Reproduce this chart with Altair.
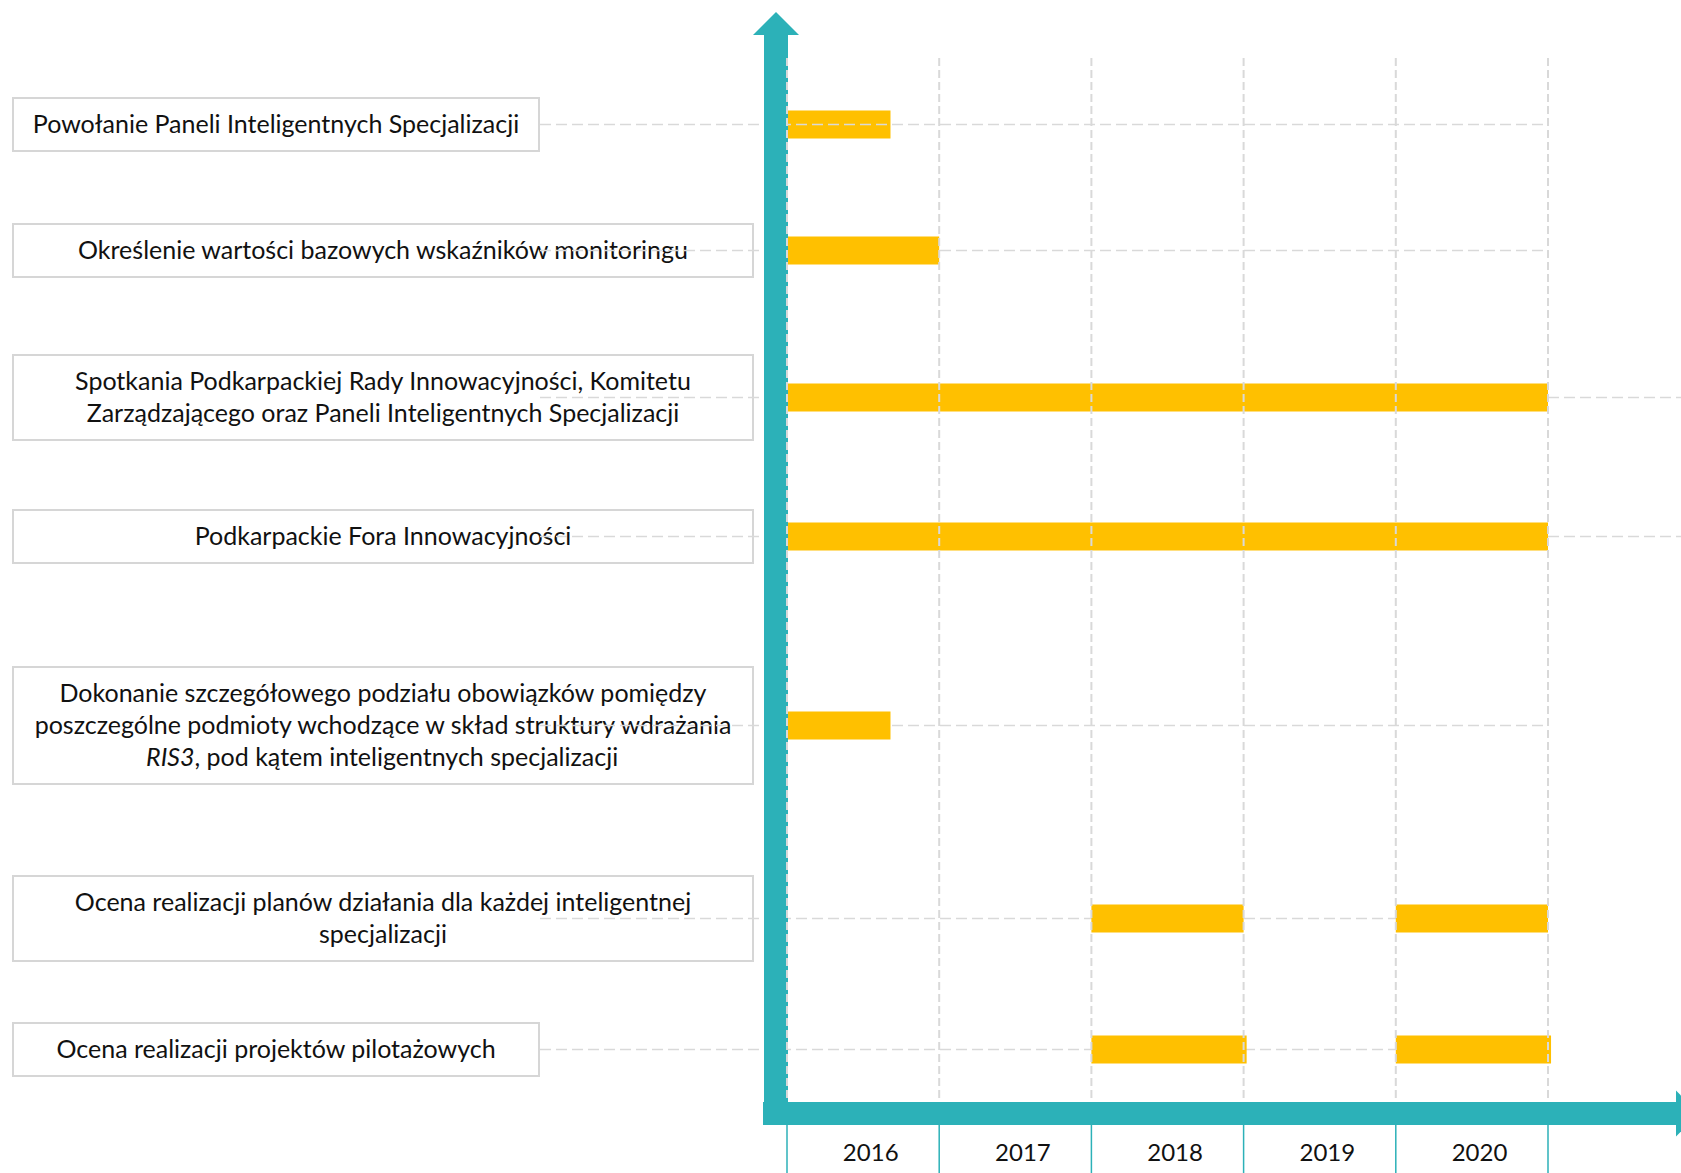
import altair as alt
import pandas as pd

# ---------------- data ----------------
tasks = [
    "Powołanie Paneli Inteligentnych Specjalizacji",
    "Określenie wartości bazowych wskaźników monitoringu",
    "Spotkania Podkarpackiej Rady Innowacyjności, Komitetu\nZarządzającego oraz Paneli Inteligentnych Specjalizacji",
    "Podkarpackie Fora Innowacyjności",
    "Dokonanie szczegółowego podziału obowiązków pomiędzy\nposzczególne podmioty wchodzące w skład struktury wdrażania\n*RIS3*, pod kątem inteligentnych specjalizacji",
    "Ocena realizacji planów działania dla każdej inteligentnej\nspecjalizacji",
    "Ocena realizacji projektów pilotażowych",
]
seg_task = [0, 1, 2, 3, 4, 5, 5, 6, 6]
seg_start = [2016.0, 2016.0, 2016.0, 2016.0, 2016.0, 2018.0, 2020.0, 2018.0, 2020.0]
seg_end = [2016.68, 2017.0, 2021.0, 2021.0, 2016.68, 2019.0, 2021.0, 2019.02, 2021.02]
years = [2016, 2017, 2018, 2019, 2020]

# ---------------- layout / style ----------------
W, H = 1681, 1173
X0, YPX = 787, 152.2          # pixel of first year boundary, pixels per year
BOX_LEFT = 13
BOX_RIGHT_SHORT, BOX_RIGHT_WIDE = 539, 753
box_wide = [False, True, True, True, True, True, False]
line_to_edge = [False, False, True, True, False, False, False]
rule_over_bar = [True, False, False, False, False, False, False]
TOP, PAD, LINE_H = 98, 10.5, 32
GAPS = [73, 78, 70, 104, 92, 62]   # vertical space between consecutive boxes
BAR_H = 28
LINE_START = 540
FONT, FS = "Lato", 25
TEAL, GOLD, GRID = "#2cb1b8", "#ffc000", "#d9d9d9"
RIS_W, REST_W = 48, 425       # rough rendered widths of the mixed-style line

yr_lo = years[0] - X0 / YPX
yr_hi = years[0] + (W - X0) / YPX
YEAR_X = alt.Scale(domain=[yr_lo, yr_hi], nice=False, zero=False)
PX_X = alt.Scale(domain=[0, W], nice=False, zero=False)
PX_Y = alt.Scale(domain=[0, H], reverse=True, nice=False, zero=False)
grid_x_end = years[-1] + 1

# row boxes, derived from line counts
rows = []
top = TOP
for i, t in enumerate(tasks):
    n = len(t.split("\n"))
    h = 2 * PAD + n * LINE_H
    right = BOX_RIGHT_WIDE if box_wide[i] else BOX_RIGHT_SHORT
    rows.append(dict(task=i, top=top, bottom=top + h, center=top + h / 2,
                     left=BOX_LEFT, right=right, tx=(BOX_LEFT + right) / 2,
                     lstart=LINE_START, over=rule_over_bar[i],
                     lend=W if line_to_edge[i] else X0 + YPX * (grid_x_end - years[0])))
    if i < len(GAPS):
        top += h + GAPS[i]
rows_df = pd.DataFrame(rows)

# text lines
plain, ital, rest = [], [], []
for r, t in zip(rows, tasks):
    lines = t.split("\n")
    n = len(lines)
    for k, ln in enumerate(lines):
        y = r["center"] + (k - (n - 1) / 2) * LINE_H
        if ln.startswith("*"):
            it, rs = ln[1:].split("*", 1)
            split = r["tx"] + (RIS_W - REST_W) / 2
            ital.append(dict(text=it, x=split, y=y))
            rest.append(dict(text=rs, x=split, y=y))
        else:
            plain.append(dict(text=ln, x=r["tx"], y=y))

bars_df = pd.DataFrame(dict(task=seg_task, start=seg_start, end=seg_end))
bars_df["y0"] = [rows[t]["center"] - BAR_H / 2 for t in seg_task]
bars_df["y1"] = [rows[t]["center"] + BAR_H / 2 for t in seg_task]

bounds_df = pd.DataFrame(dict(year=years + [grid_x_end]))
years_df = pd.DataFrame(dict(year=years, label=[str(y) for y in years]))
one = pd.DataFrame(dict(k=[0]))

# ---------------- marks ----------------
boxes = alt.Chart(rows_df).mark_rect(fill="white", stroke="#d6d6d6", strokeWidth=2).encode(
    x=alt.X("left:Q", scale=PX_X, axis=None), x2="right:Q",
    y=alt.Y("top:Q", scale=PX_Y, axis=None), y2="bottom:Q")

def text_layer(data, align, style="normal"):
    return alt.Chart(pd.DataFrame(data)).mark_text(
        font=FONT, fontSize=FS, fontStyle=style, color="#111111",
        align=align, baseline="middle").encode(
        x=alt.X("x:Q", scale=PX_X, axis=None),
        y=alt.Y("y:Q", scale=PX_Y, axis=None), text="text:N")

txt_plain = text_layer(plain, "center")
txt_ital = text_layer(ital, "right", "italic")
txt_rest = text_layer(rest, "left")

bars = alt.Chart(bars_df).mark_rect(color=GOLD).encode(
    x=alt.X("start:Q", scale=YEAR_X, axis=None), x2="end:Q",
    y=alt.Y("y0:Q", scale=PX_Y, axis=None), y2="y1:Q")

def hrule_layer(over):
    return alt.Chart(rows_df).transform_filter(
        "datum.over" if over else "!datum.over").mark_rule(
        color=GRID, strokeWidth=1.6, strokeDash=[11, 5]).encode(
        x=alt.X("lstart:Q", scale=PX_X, axis=None), x2="lend:Q",
        y=alt.Y("center:Q", scale=PX_Y, axis=None))

hrules_under = hrule_layer(False)
hrules_over = hrule_layer(True)

vshaft = alt.Chart(one).mark_rect(color=TEAL).encode(
    x=alt.value(764), x2=alt.value(788), y=alt.value(34), y2=alt.value(1125))
hshaft = alt.Chart(one).mark_rect(color=TEAL).encode(
    x=alt.value(763), x2=alt.value(1677), y=alt.value(1102), y2=alt.value(1125))
up_head = alt.Chart(one).mark_point(
    shape="M-1,0.5L0,-0.5L1,0.5Z", size=2116, filled=True, opacity=1, color=TEAL, strokeWidth=0).encode(
    x=alt.value(776), y=alt.value(23.5))
right_head = alt.Chart(one).mark_point(
    shape="M-0.5,-1L0.5,0L-0.5,1Z", size=2116, filled=True, opacity=1, color=TEAL, strokeWidth=0).encode(
    x=alt.value(1687.5), y=alt.value(1113.5))

vgrid = alt.Chart(bounds_df).mark_rule(color=GRID, strokeWidth=2, strokeDash=[8, 4]).encode(
    x=alt.X("year:Q", scale=YEAR_X, axis=None), y=alt.value(58), y2=alt.value(1102))
ticks = alt.Chart(bounds_df).mark_rule(color=TEAL, strokeWidth=1.5).encode(
    x=alt.X("year:Q", scale=YEAR_X, axis=None), y=alt.value(1125), y2=alt.value(H))
ylabels = alt.Chart(years_df).transform_calculate(mid="datum.year + 0.55").mark_text(
    font=FONT, fontSize=24, color="#111111", align="center", baseline="middle").encode(
    x=alt.X("mid:Q", scale=YEAR_X, axis=None), y=alt.value(1154), text="label:N")

chart = alt.layer(
    boxes, txt_plain, txt_ital, txt_rest, hrules_under, bars, hrules_over,
    vshaft, hshaft, up_head, right_head, vgrid, ticks, ylabels
).resolve_scale(x="independent").properties(
    width=W, height=H, padding=0, background="white",
    autosize=alt.AutoSizeParams(type="none")
).configure_view(stroke=None)

chart.save("out.html", embed_options={"renderer": "svg", "actions": False})
